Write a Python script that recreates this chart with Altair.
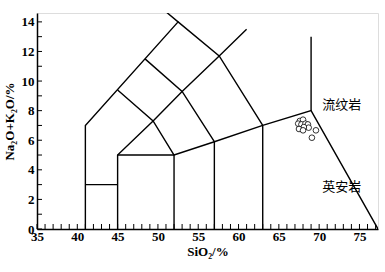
import altair as alt
import pandas as pd

# Boundary polylines of the TAS diagram (SiO2, Na2O+K2O)
lines = [
    [(41, 0), (41, 7), (52.5, 14), (50.3, 15)],
    [(41, 3), (45, 3)],
    [(45, 0), (45, 5), (49.4, 7.3), (53, 9.3), (57.6, 11.7), (61, 13.5)],
    [(45, 5), (52, 5), (57, 5.9), (63, 7), (69, 8), (77.3, 0)],
    [(52, 0), (52, 5)],
    [(57, 0), (57, 5.9)],
    [(63, 0), (63, 7)],
    [(52, 5), (49.4, 7.3), (45, 9.4)],
    [(57, 5.9), (53, 9.3), (48.4, 11.5)],
    [(63, 7), (57.6, 11.7), (52.5, 14)],
    [(69, 8), (69, 13)],
]

# Samples
sio2 = [67.6, 68.0, 67.4, 67.8, 68.3, 68.6, 68.7, 68.1, 67.5, 68.0, 69.6, 69.1]
alk = [7.30, 7.39, 7.12, 7.07, 7.12, 7.07, 6.85, 6.89, 6.76, 6.67, 6.67, 6.17]

# Field labels
label_text = ["流纹岩", "英安岩"]
label_x = [72.8, 72.8]
label_y = [8.4, 2.85]

x_ticks = list(range(35, 78))
x_labels = [35, 40, 45, 50, 55, 60, 65, 70, 75]
y_ticks = list(range(0, 15))
y_labels = [0, 2, 4, 6, 8, 10, 12, 14]

XDOM = [35, 77.3]
YDOM = [0, 14.6]
SERIF = "Liberation Serif"

rows = []
for i, pl in enumerate(lines):
    for j, (a, b) in enumerate(pl):
        rows.append({"id": i, "o": j, "x": a, "y": b})
line_df = pd.DataFrame(rows)

xs = alt.Scale(domain=XDOM, nice=False, zero=False)
ys = alt.Scale(domain=YDOM, nice=False, zero=False)

ax_x = alt.Axis(values=x_labels, title="SiO₂/%", labelPadding=1, titlePadding=2)
ax_y = alt.Axis(values=y_labels, title="Na₂O+K₂O/%", labelPadding=3, titlePadding=5)

X = lambda f: alt.X(f, scale=xs, axis=ax_x)
Y = lambda f: alt.Y(f, scale=ys, axis=ax_y)

boundaries = alt.Chart(line_df).mark_line(color="black", strokeWidth=1.4, clip=True).encode(
    x=X("x:Q"), y=Y("y:Q"), detail="id:N", order="o:Q",
)

xt = alt.Chart(pd.DataFrame({"t": x_ticks})).mark_rule(color="black", strokeWidth=1).encode(
    x=X("t:Q"), y=alt.value(216), y2=alt.value(211)
)
yt = alt.Chart(pd.DataFrame({"t": y_ticks})).mark_rule(color="black", strokeWidth=1).encode(
    y=Y("t:Q"), x=alt.value(0), x2=alt.value(5)
)

pts = alt.Chart(pd.DataFrame({"x": sio2, "y": alk})).mark_point(
    shape="circle", size=32, color="black", strokeWidth=0.8, fill="white", filled=False, opacity=1
).encode(x=X("x:Q"), y=Y("y:Q"))

labels = alt.Chart(pd.DataFrame({"t": label_text, "x": label_x, "y": label_y})).mark_text(
    font="Noto Sans CJK SC", fontSize=13, color="black"
).encode(x=X("x:Q"), y=Y("y:Q"), text="t:N")

chart = alt.layer(boundaries, xt, yt, pts, labels).properties(
    width=341, height=216,
    autosize=alt.AutoSizeParams(type="none"),
    padding={"left": 37, "top": 13, "right": 7, "bottom": 43},
).configure_view(stroke=None).configure(background="white").configure_axis(
    ticks=False, grid=False, domainColor="black", domainWidth=1.5,
    labelFont=SERIF, labelFontSize=13, labelFontWeight="bold", labelColor="black",
    labelOverlap=False, labelFlush=False,
    titleFont=SERIF, titleFontSize=13, titleFontWeight="bold", titleColor="black",
)

chart.save("out.html", embed_options={"renderer": "svg", "actions": False})
